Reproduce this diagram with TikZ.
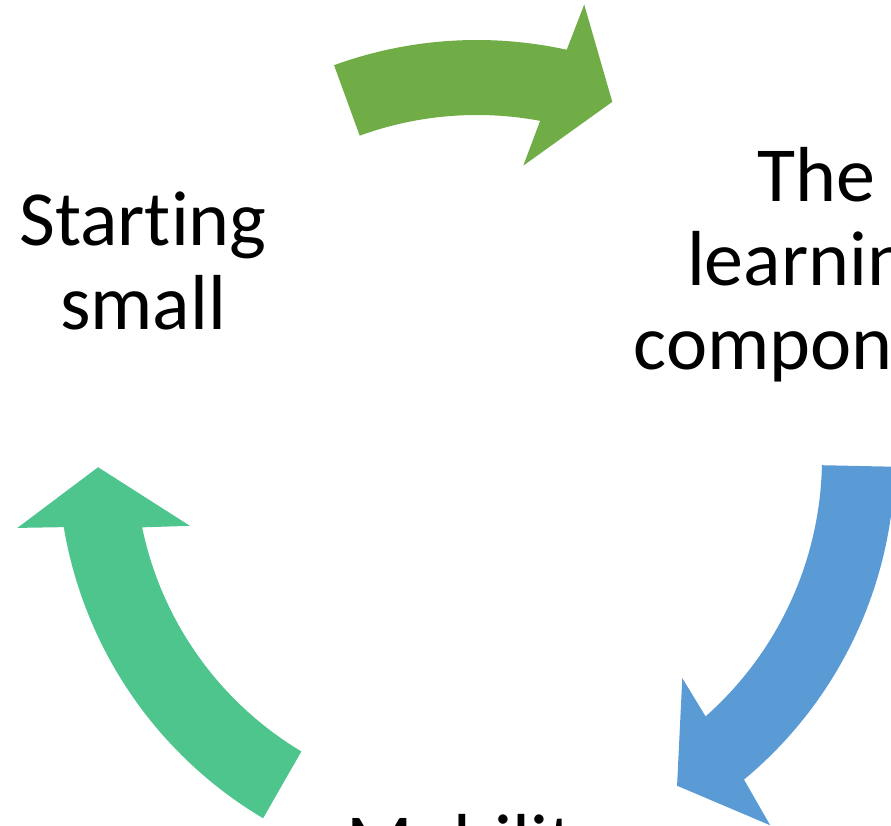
\documentclass[tikz,border=0pt]{standalone}
\usepackage{fontspec}
\setmainfont{Carlito}[Ligatures=CommonOff]
\usetikzlibrary{calc}
\definecolor{cycgreen}{HTML}{70AD47}
\definecolor{cycblue}{HTML}{5B9BD5}
\definecolor{cycteal}{RGB}{79,197,142}

\begin{document}
\begin{tikzpicture}[x=1pt, y=1pt,
    cycletext/.style={align=center, inner sep=0pt, font=\fontsize{78}{84}\selectfont}]
    \useasboundingbox (0,0) rectangle (891,826);
    \clip (0,0) rectangle (891,826);
    \coordinate (c) at (477,368);

    % Nodes
    \node (start) [cycletext] at (143,565) {Starting\\small};
    \node (learn) [cycletext] at (816,561) {The\\learning\\component};
    \node (mob) [cycletext, anchor=base] at (478,-43) {Mobility};

    % Arrows
    \fill [cycgreen] ($(c)+(110:418)$) arc[start angle=110, end angle=77.6, radius=418pt]
        -- ($(c)+(76.7:466)$) -- ($(c)+(69.2:381)$) -- ($(c)+(81:296)$)
        -- ($(c)+(79.4:343)$) arc[start angle=79.4, end angle=110, radius=343pt] -- cycle;
    \fill [cycblue] ($(c)+(-1.2:418)$) arc[start angle=-1.2, end angle=-50.3, radius=418pt]
        -- ($(c)+(-51.4:470)$) -- ($(c)+(-58.6:384)$) -- ($(c)+(-47:301)$)
        -- ($(c)+(-48.5:345)$) arc[start angle=-48.5, end angle=-1.2, radius=345pt] -- cycle;
    \fill [cycteal] ($(c)+(239.3:419)$) arc[start angle=239.3, end angle=189.5, radius=419pt]
        -- ($(c)+(188.65:465)$) -- ($(c)+(181.4:379)$) -- ($(c)+(193.3:295)$)
        -- ($(c)+(191.7:342)$) arc[start angle=191.7, end angle=239.1, radius=342pt] -- cycle;
\end{tikzpicture}
\end{document}
